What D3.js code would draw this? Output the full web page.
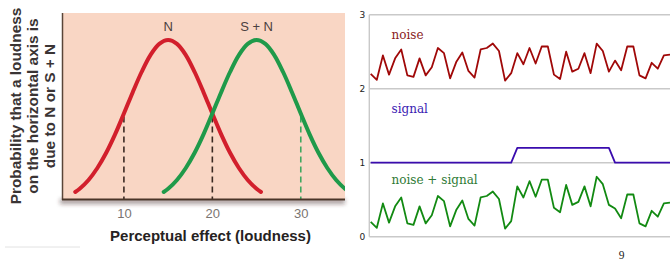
<!DOCTYPE html>
<html><head><meta charset="utf-8">
<script src="https://cdn.jsdelivr.net/npm/d3@7"></script>
<style>body{margin:0;background:#fff}svg{display:block}</style>
</head><body>
<svg id="c" width="670" height="261"></svg>
<script>
// ---------- left panel data ----------
const loudnessN  = [4.5, 5, 6, 7, 8, 9, 10, 11, 12, 13, 14, 15, 16, 17, 18, 19, 20, 21, 22, 23, 24, 25, 25.5];
const probN      = [0.05, 0.07, 0.125, 0.2, 0.295, 0.41, 0.54, 0.674, 0.80, 0.906, 0.976, 1.0, 0.976, 0.906, 0.80, 0.674, 0.54, 0.41, 0.295, 0.2, 0.125, 0.07, 0.05];
const loudnessSN = [14.5, 15, 16, 17, 18, 19, 20, 21, 22, 23, 24, 25, 26, 27, 28, 29, 30, 31, 32, 33, 34, 35, 35.5];
const probSN     = [0.05, 0.07, 0.125, 0.2, 0.295, 0.41, 0.54, 0.674, 0.80, 0.906, 0.976, 1.0, 0.976, 0.906, 0.80, 0.674, 0.54, 0.41, 0.295, 0.2, 0.125, 0.07, 0.05];
const loudnessTicks = [10, 20, 30];
const criterionLoudness = [10, 20, 30];
const criterionCurve = ["N", "N", "S + N"];
const curveNames = ["N", "S + N"];
const curvePeakLoudness = [15, 25];
const yTitleLines = ["Probability that a loudness", "on the horizontal axis is", "due to N or S + N"];
const xTitle = "Perceptual effect (loudness)";

// ---------- right panel data ----------
const noise = [2.20,2.12,2.45,2.19,2.41,2.53,2.18,2.16,2.41,2.18,
               2.29,2.55,2.48,2.14,2.36,2.49,2.24,2.15,2.53,2.55,
               2.61,2.51,2.11,2.21,2.48,2.33,2.55,2.34,2.57,2.57,
               2.19,2.13,2.50,2.23,2.27,2.48,2.21,2.61,2.51,2.23,
               2.38,2.25,2.57,2.57,2.18,2.14,2.35,2.27,2.45,2.46];
const signal = [1,1,1,1,1,1,1,1,1,1,
                1,1,1,1,1,1,1,1,1,1,
                1,1,1,1,1.2,1.2,1.2,1.2,1.2,1.2,
                1.2,1.2,1.2,1.2,1.2,1.2,1.2,1.2,1.2,1.2,
                1,1,1,1,1,1,1,1,1,1];
const noiseSignal = [0.20,0.12,0.45,0.19,0.41,0.53,0.18,0.16,0.41,0.18,
                     0.29,0.55,0.48,0.14,0.36,0.49,0.24,0.15,0.53,0.55,
                     0.61,0.51,0.11,0.21,0.68,0.53,0.75,0.54,0.77,0.77,
                     0.39,0.33,0.70,0.43,0.47,0.68,0.41,0.81,0.71,0.43,
                     0.38,0.25,0.57,0.57,0.18,0.14,0.35,0.27,0.45,0.46];
const rightTicks = [0, 1, 2, 3];
const seriesNames = ["noise", "signal", "noise + signal"];
const pageNumber = "9";

// ---------- drawing ----------
const svg = d3.select("#c");
const defs = svg.append("defs");
defs.append("filter").attr("id", "blur").attr("x", "-20%").attr("y", "-200%").attr("width", "140%").attr("height", "500%")
  .append("feGaussianBlur").attr("stdDeviation", 2.2);
defs.append("clipPath").attr("id", "leftClip").append("rect").attr("x", 62).attr("y", 0).attr("width", 283).attr("height", 200);

const L = {x0: 62, x1: 345, top: 13, base: 200};
const xL = d3.scaleLinear().domain([3, 35]).range([L.x0, L.x1]);
const yL = d3.scaleLinear().domain([0, 1]).range([L.base, 40]);

// shadow under axis
svg.append("rect").attr("x", L.x0 - 2).attr("y", L.base - 1).attr("width", L.x1 - L.x0 + 2).attr("height", 5)
  .attr("fill", "rgba(60,40,30,0.45)").attr("filter", "url(#blur)");
// peach background
svg.append("rect").attr("x", L.x0).attr("y", L.top).attr("width", L.x1 - L.x0).attr("height", L.base - L.top)
  .attr("fill", "#f9d6c4");

const gL = svg.append("g").attr("clip-path", "url(#leftClip)");
const lineL = d3.line().x(d => xL(d[0])).y(d => yL(d[1])).curve(d3.curveCatmullRom);
const curves = [
  {name: curveNames[0], pts: d3.zip(loudnessN, probN), color: "#d21f2c"},
  {name: curveNames[1], pts: d3.zip(loudnessSN, probSN), color: "#1f9a4a"}
];
const valueAt = (c, x) => {
  const i = c.pts.findIndex(p => p[0] === x);
  return i >= 0 ? c.pts[i][1] : 0;
};
// dashed criterion lines
criterionLoudness.forEach((v, i) => {
  const c = curves.find(k => k.name === criterionCurve[i]);
  const col = criterionCurve[i] === "N" ? "#3b2a22" : "#3fa860";
  gL.append("line").attr("x1", xL(v)).attr("x2", xL(v))
    .attr("y1", yL(valueAt(c, v)) + 3).attr("y2", L.base)
    .attr("stroke", col).attr("stroke-width", 1.6).attr("stroke-dasharray", "6,4");
});
curves.forEach(c => {
  gL.append("path").attr("d", lineL(c.pts)).attr("fill", "none")
    .attr("stroke", c.color).attr("stroke-width", 4).attr("stroke-linecap", "round");
});
// curve labels
curveNames.forEach((n, i) => {
  svg.append("text").attr("x", xL(curvePeakLoudness[i])).attr("y", 30.5)
    .attr("text-anchor", "middle").attr("font-family", "Liberation Sans, Arial, sans-serif")
    .attr("font-size", 13).attr("fill", "#4a4040").text(n);
});
// axes lines
svg.append("line").attr("x1", L.x0 + 0.5).attr("x2", L.x0 + 0.5).attr("y1", L.top).attr("y2", L.base)
  .attr("stroke", "#5a4538").attr("stroke-width", 1.5);
svg.append("line").attr("x1", L.x0).attr("x2", L.x1).attr("y1", L.base - 0.5).attr("y2", L.base - 0.5)
  .attr("stroke", "#4a3528").attr("stroke-width", 2);
// x ticks
const axL = d3.axisBottom(xL).tickValues(loudnessTicks).tickSize(0).tickPadding(0);
const gAx = svg.append("g").attr("transform", `translate(0,${L.base})`).call(axL);
gAx.select(".domain").remove();
gAx.selectAll("text").attr("y", 17.5).attr("dy", 0).attr("font-family", "Liberation Sans, Arial, sans-serif")
  .attr("font-size", 13).attr("fill", "#7a7470");
// x title
svg.append("text").attr("x", 210.5).attr("y", 241).attr("text-anchor", "middle")
  .attr("font-family", "Liberation Sans, Arial, sans-serif").attr("font-weight", "bold")
  .attr("font-size", 15).attr("fill", "#262222").text(xTitle);
// y title
yTitleLines.forEach((t, i) => {
  svg.append("text").attr("transform", `translate(${21 + i * 17},106) rotate(-90)`)
    .attr("text-anchor", "middle").attr("font-family", "Liberation Sans, Arial, sans-serif")
    .attr("font-weight", "bold").attr("font-size", 15.4).attr("fill", "#3a3434").text(t);
});
// faint artifact line bottom-left
svg.append("line").attr("x1", 5).attr("x2", 80).attr("y1", 247).attr("y2", 247)
  .attr("stroke", "#e2e2e2").attr("stroke-width", 1);

// ---------- right panel ----------
const xR = d3.scaleLinear().domain([0, noise.length - 1]).range([370.7, 670]);
const yR = d3.scaleLinear().domain([0, 3]).range([236.7, 14.7]);
const R0 = 369.3;
rightTicks.forEach(t => {
  svg.append("line").attr("x1", R0).attr("x2", 670).attr("y1", yR(t)).attr("y2", yR(t))
    .attr("stroke", "#c9c9c9").attr("stroke-width", 1.4);
});
svg.append("line").attr("x1", R0).attr("x2", R0).attr("y1", yR(3)).attr("y2", yR(0))
  .attr("stroke", "#c9c9c9").attr("stroke-width", 1.4);
const axR = d3.axisLeft(yR).tickValues(rightTicks).tickFormat(d3.format("d")).tickSize(0).tickPadding(0);
const gR = svg.append("g").attr("transform", `translate(${R0},0)`).call(axR);
gR.select(".domain").remove();
gR.selectAll("text").attr("x", -4).attr("font-family", "DejaVu Sans, sans-serif")
  .attr("font-size", 9).attr("fill", "#222");

const lineR = d3.line().x((d, i) => xR(i)).y(d => yR(d));
const series = [
  {name: seriesNames[0], vals: noise, color: "#a00808", label: "#8a1c1c", ly: 38.5},
  {name: seriesNames[1], vals: signal, color: "#3a0cae", label: "#3a1ab2", ly: 113},
  {name: seriesNames[2], vals: noiseSignal, color: "#128a12", label: "#2e7a35", ly: 183.5}
];
series.forEach(s => {
  svg.append("path").attr("d", lineR(s.vals)).attr("fill", "none")
    .attr("stroke", s.color).attr("stroke-width", 1.8).attr("stroke-linejoin", "round");
  svg.append("text").attr("x", 391.5).attr("y", s.ly).attr("font-family", "DejaVu Serif, serif")
    .attr("font-size", 12).attr("fill", s.label).text(s.name);
});
svg.append("text").attr("x", 621.7).attr("y", 259).attr("text-anchor", "middle")
  .attr("font-family", "Liberation Serif, serif").attr("font-size", 11.5).attr("fill", "#222").text(pageNumber);
</script>
</body></html>
